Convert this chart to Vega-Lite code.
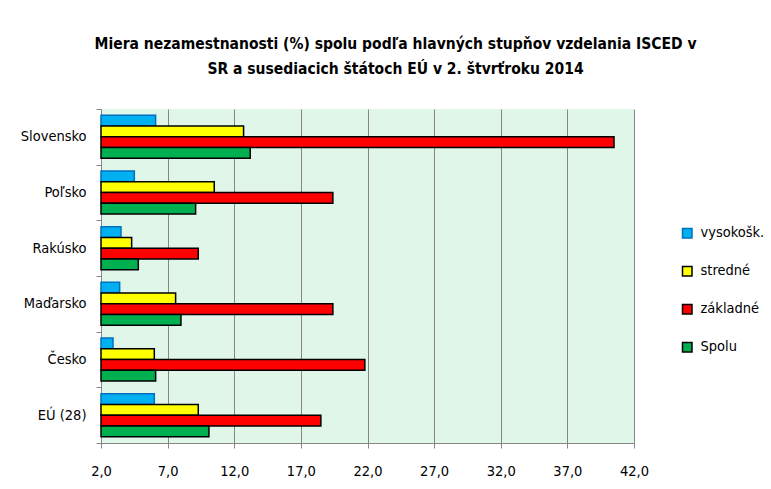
{
  "$schema": "https://vega.github.io/schema/vega-lite/v6.json",
  "width": 533,
  "height": 334,
  "autosize": "none",
  "padding": {"left": 101, "top": 109, "right": 137, "bottom": 46},
  "background": "white",
  "title": {
    "text": ["Miera nezamestnanosti  (%) spolu podľa hlavných stupňov vzdelania ISCED v", "SR a susediacich  štátoch EÚ v 2. štvrťroku 2014"],
    "anchor": "middle",
    "frame": "group",
    "dx": 28,
    "offset": 24,
    "fontSize": 15.5,
    "fontWeight": "bold",
    "lineHeight": 25,
    "color": "black",
    "font": "DejaVu Sans Condensed, sans-serif"
  },
  "data": {
    "values": [
      {"krajina": "Slovensko", "stupen": "vysokošk.", "hodnota": 6.1},
      {"krajina": "Slovensko", "stupen": "stredné", "hodnota": 12.7},
      {"krajina": "Slovensko", "stupen": "základné", "hodnota": 40.5},
      {"krajina": "Slovensko", "stupen": "Spolu", "hodnota": 13.2},
      {"krajina": "Poľsko", "stupen": "vysokošk.", "hodnota": 4.5},
      {"krajina": "Poľsko", "stupen": "stredné", "hodnota": 10.5},
      {"krajina": "Poľsko", "stupen": "základné", "hodnota": 19.4},
      {"krajina": "Poľsko", "stupen": "Spolu", "hodnota": 9.1},
      {"krajina": "Rakúsko", "stupen": "vysokošk.", "hodnota": 3.5},
      {"krajina": "Rakúsko", "stupen": "stredné", "hodnota": 4.3},
      {"krajina": "Rakúsko", "stupen": "základné", "hodnota": 9.3},
      {"krajina": "Rakúsko", "stupen": "Spolu", "hodnota": 4.8},
      {"krajina": "Maďarsko", "stupen": "vysokošk.", "hodnota": 3.4},
      {"krajina": "Maďarsko", "stupen": "stredné", "hodnota": 7.6},
      {"krajina": "Maďarsko", "stupen": "základné", "hodnota": 19.4},
      {"krajina": "Maďarsko", "stupen": "Spolu", "hodnota": 8.0},
      {"krajina": "Česko", "stupen": "vysokošk.", "hodnota": 2.9},
      {"krajina": "Česko", "stupen": "stredné", "hodnota": 6.0},
      {"krajina": "Česko", "stupen": "základné", "hodnota": 21.8},
      {"krajina": "Česko", "stupen": "Spolu", "hodnota": 6.1},
      {"krajina": "EÚ (28)", "stupen": "vysokošk.", "hodnota": 6.0},
      {"krajina": "EÚ (28)", "stupen": "stredné", "hodnota": 9.3},
      {"krajina": "EÚ (28)", "stupen": "základné", "hodnota": 18.5},
      {"krajina": "EÚ (28)", "stupen": "Spolu", "hodnota": 10.1}
    ]
  },
  "mark": {"type": "bar", "strokeWidth": 1.5},
  "encoding": {
    "y": {
      "field": "krajina",
      "type": "nominal",
      "sort": ["Slovensko", "Poľsko", "Rakúsko", "Maďarsko", "Česko", "EÚ (28)"],
      "scale": {"paddingInner": 0, "paddingOuter": 0},
      "axis": {
        "title": null,
        "tickBand": "extent",
        "ticks": true,
        "tickSize": 5,
        "tickColor": "#868686",
        "domainColor": "#868686",
        "labelFontSize": 14.5,
        "labelPadding": 10,
        "labelColor": "black",
        "grid": false
      }
    },
    "yOffset": {
      "field": "stupen",
      "type": "nominal",
      "sort": ["vysokošk.", "stredné", "základné", "Spolu"],
      "scale": {"paddingInner": 0, "paddingOuter": 0.59}
    },
    "x": {
      "field": "hodnota",
      "type": "quantitative",
      "scale": {"domain": [2, 42], "zero": false, "nice": false},
      "axis": {
        "title": null,
        "values": [2, 7, 12, 17, 22, 27, 32, 37, 42],
        "labelExpr": "replace(format(datum.value, '.1f'), '.', ',')",
        "grid": true,
        "gridColor": "#868686",
        "gridWidth": 1,
        "gridOpacity": 1,
        "tickColor": "#868686",
        "tickSize": 5,
        "domainColor": "#868686",
        "labelFontSize": 14.5,
        "labelPadding": 16,
        "labelColor": "black",
        "labelFlush": false
      }
    },
    "x2": {"datum": 2},
    "color": {
      "field": "stupen",
      "type": "nominal",
      "scale": {
        "domain": ["vysokošk.", "stredné", "základné", "Spolu"],
        "range": ["#00b0f0", "#ffff00", "#ff0000", "#00b050"]
      },
      "legend": {
        "title": null,
        "orient": "none",
        "legendX": 579,
        "legendY": 117,
        "direction": "vertical",
        "padding": 0,
        "rowPadding": 22,
        "symbolType": "square",
        "symbolSize": 90,
        "symbolStrokeWidth": 1.5,
        "symbolOpacity": 1,
        "labelFontSize": 14.5,
        "labelOffset": 6,
        "labelColor": "black"
      }
    },
    "stroke": {
      "field": "stupen",
      "type": "nominal",
      "scale": {
        "domain": ["vysokošk.", "stredné", "základné", "Spolu"],
        "range": ["#0070c0", "#000000", "#000000", "#000000"]
      },
      "legend": {"title": null}
    }
  },
  "config": {
    "font": "DejaVu Sans Condensed, sans-serif",
    "view": {"fill": "#e0f6e9", "stroke": null}
  }
}
